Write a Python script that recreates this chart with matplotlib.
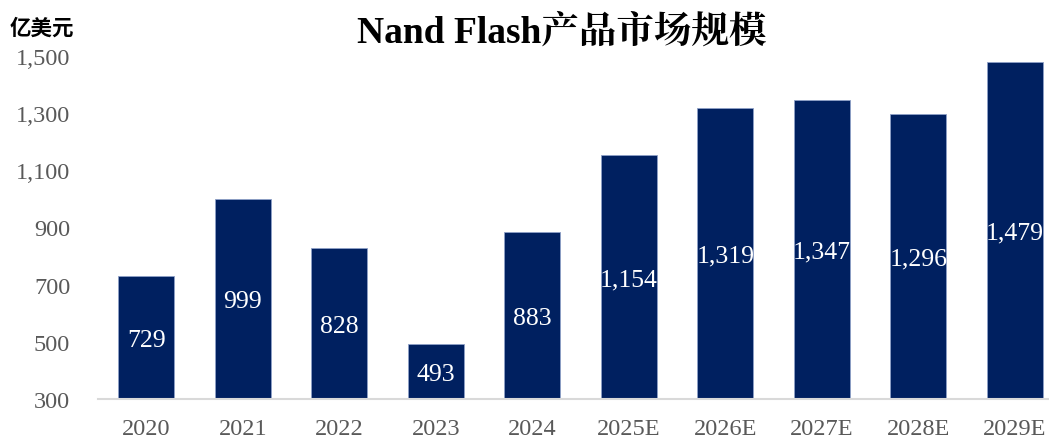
import matplotlib
matplotlib.use('Agg')
import matplotlib.pyplot as plt

# data
years = ['2020', '2021', '2022', '2023', '2024', '2025E', '2026E', '2027E', '2028E', '2029E']
market_size = [729, 999, 828, 493, 883, 1154, 1319, 1347, 1296, 1479]
y_ticks = [300, 500, 700, 900, 1100, 1300, 1500]

serif = ['Liberation Serif', 'Noto Serif CJK SC', 'Noto Sans CJK SC']
bar_color = '#002060'
base = 300

fig = plt.figure(figsize=(10.49, 4.39), dpi=100)
ax = fig.add_axes([98 / 1049, 39 / 439, 965 / 1049, 343 / 439])

x = range(len(years))
bars = ax.bar(x, [v - base for v in market_size], bottom=base, width=0.58,
              color=bar_color, edgecolor='#8ea0c8', linewidth=0.6, zorder=2)

# value labels in the middle of each bar
for i, v in enumerate(market_size):
    ax.text(i, (v + base) / 2 - 8, f'{v:,}', ha='center', va='center',
            color='white', fontsize=18.5, family=serif, zorder=3)

ax.set_xlim(-0.5, len(years) - 0.5)
ax.set_ylim(300, 1500)
ax.set_yticks(y_ticks)
ax.set_yticklabels([f'{t:,}' for t in y_ticks], family=serif, fontsize=17.5, color='#595959')
ax.set_xticks(list(x))
ax.set_xticklabels(years, family=serif, fontsize=17.5, color='#595959')
ax.tick_params(axis='both', length=0)
ax.tick_params(axis='y', pad=20)
ax.tick_params(axis='x', pad=14)

for s in ['top', 'right', 'left']:
    ax.spines[s].set_visible(False)
ax.spines['bottom'].set_color('#d9d9d9')
ax.spines['bottom'].set_linewidth(1.5)

fig.text(562 / 1049, 1 - 33 / 439, 'Nand Flash产品市场规模', ha='center', va='center',
         fontsize=27, fontweight='bold', family=serif)
fig.text(10 / 1049, 1 - 28 / 439, '亿美元', ha='left', va='center',
         fontsize=15.5, fontweight='bold', family=['Noto Sans CJK SC', 'DejaVu Sans'])

plt.savefig('out.png', dpi=100)
